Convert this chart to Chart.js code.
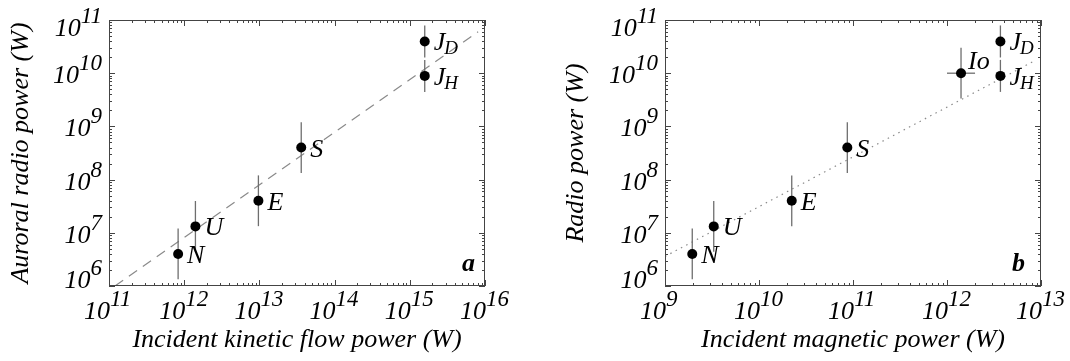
<!DOCTYPE html>
<html>
<head>
<meta charset="utf-8">
<script src="https://cdn.jsdelivr.net/npm/chart.js@4.4.1/dist/chart.umd.min.js"></script>
<style>
  html, body { margin: 0; padding: 0; background: #fff; }
  #wrap { position: relative; width: 1070px; height: 361px; }
  #wrap canvas { position: absolute; top: 0; }
</style>
</head>
<body>
<div id="wrap">
  <canvas id="chartA" width="535" height="361" style="left:0"></canvas>
  <canvas id="chartB" width="535" height="361" style="left:535px"></canvas>
</div>
<script>
// panel a : radio power vs incident kinetic flow power
const namesA = ['N', 'U', 'E', 'S', 'J', 'J'];
const subsA = ['', '', '', '', 'D', 'H'];
const kineticPower = [8.3e11, 1.41e12, 9.7e12, 3.6e13, 1.58e15, 1.58e15];
const radioPowerA = [4.0e6, 1.32e7, 4.0e7, 4.0e8, 3.95e10, 8.9e9];
const radioErrA = [3, 3, 3, 3, 2, 2];   // multiplicative error
const fitAx = [1.2e11, 8.1e15];
const fitAy = [1.0e6, 6.0e10];

// panel b : radio power vs incident magnetic power
const namesB = ['N', 'U', 'E', 'S', 'Io', 'J', 'J'];
const subsB = ['', '', '', '', '', 'D', 'H'];
const magneticPower = [1.95e9, 3.3e9, 2.23e10, 8.7e10, 1.41e12, 3.7e12, 3.7e12];
const radioPowerB = [4.0e6, 1.32e7, 4.0e7, 4.0e8, 1.0e10, 3.95e10, 8.9e9];
const radioErrB = [3, 3, 3, 3, 3, 2, 2];
const magErrB = [0, 0, 0, 0, 1.41, 0, 0];
const fitBx = [1.0e9, 8.9e12];
const fitBy = [3.6e6, 1.78e10];

// tick exponents
const xExpA = [11, 12, 13, 14, 15, 16];
const xExpB = [9, 10, 11, 12, 13];
const yExp = [6, 7, 8, 9, 10, 11];

const SERIF = '"Liberation Serif", "Times New Roman", serif';

const framePlugin = {
    id: 'frame',
    afterDraw(chart, args, opts) {
        const ctx = chart.ctx;
        const area = chart.chartArea;
        const xs = chart.scales.x;
        const ys = chart.scales.y;
        ctx.save();
        ctx.strokeStyle = '#444';
        ctx.lineWidth = 1;
        ctx.strokeRect(Math.round(area.left) + 0.5, Math.round(area.top) + 0.5,
            Math.round(area.width) - 1, Math.round(area.height) - 1);

        ctx.beginPath();
        opts.xExp.forEach(e => {
            for (let m = 1; m <= 9; m++) {
                const v = m * Math.pow(10, e);
                if (v > xs.max * 1.0001) break;
                const px = Math.round(xs.getPixelForValue(v)) + 0.5;
                const len = m === 1 ? 6 : 3;
                ctx.moveTo(px, area.bottom); ctx.lineTo(px, area.bottom - len);
                ctx.moveTo(px, area.top); ctx.lineTo(px, area.top + len);
            }
        });
        opts.yExp.forEach(e => {
            for (let m = 1; m <= 9; m++) {
                const v = m * Math.pow(10, e);
                if (v > ys.max * 1.0001) break;
                const py = Math.round(ys.getPixelForValue(v)) + 0.5;
                const len = m === 1 ? 6 : 3;
                ctx.moveTo(area.left, py); ctx.lineTo(area.left + len, py);
                ctx.moveTo(area.right, py); ctx.lineTo(area.right - len, py);
            }
        });
        ctx.stroke();

        // tick labels 10^n
        ctx.fillStyle = '#000';
        const baseFont = 'italic 26px ' + SERIF;
        const supFont = 'italic 23px ' + SERIF;
        ctx.textBaseline = 'alphabetic';
        opts.xExp.forEach(e => {
            const px = xs.getPixelForValue(Math.pow(10, e));
            ctx.font = baseFont;
            ctx.textAlign = 'right';
            ctx.fillText('10', px + 1, area.bottom + 33);
            ctx.font = supFont;
            ctx.textAlign = 'left';
            ctx.fillText(String(e), px + 1, area.bottom + 20);
        });
        opts.yExp.forEach(e => {
            const py = ys.getPixelForValue(Math.pow(10, e));
            const base = Math.min(Math.max(py + 10, area.top + 16), area.bottom + 2);
            const right = area.left - 7;
            ctx.font = supFont;
            const w = ctx.measureText(String(e)).width;
            ctx.textAlign = 'left';
            ctx.fillText(String(e), right - w, base - 13);
            ctx.font = baseFont;
            ctx.textAlign = 'right';
            ctx.fillText('10', right - w, base);
        });

        // panel letter
        ctx.font = 'italic bold 26px ' + SERIF;
        ctx.textAlign = 'right';
        ctx.fillText(opts.letter, area.right - opts.letterInset, area.bottom - 15);
        ctx.restore();
    },
    afterDatasetsDraw(chart, args, opts) {
        const ctx = chart.ctx;
        const idx = chart.data.datasets.findIndex(d => d.label === 'planets');
        const meta = chart.getDatasetMeta(idx);
        ctx.save();
        ctx.fillStyle = '#000';
        ctx.textAlign = 'left';
        ctx.textBaseline = 'alphabetic';
        meta.data.forEach((pt, i) => {
            const name = opts.names[i];
            let x = pt.x + 9;
            let y = pt.y + 9;
            if (name === 'Io') { x = pt.x + 7; y = pt.y - 4; }
            ctx.font = 'italic 26px ' + SERIF;
            ctx.fillText(name, x, y);
            if (opts.subs[i]) {
                const w = ctx.measureText(name).width;
                ctx.font = 'italic 19px ' + SERIF;
                ctx.fillText(opts.subs[i], x + w - 1, y + 4);
            }
        });
        ctx.restore();
    }
};

function makeChart(canvasId, p) {
    const datasets = [];
    datasets.push({
        label: 'fit',
        data: p.fitX.map((x, i) => ({ x: x, y: p.fitY[i] })),
        showLine: true,
        borderColor: '#8a8a8a',
        borderWidth: 1.2,
        borderDash: p.dash,
        pointRadius: 0,
        order: 3
    });
    p.xs.forEach((x, i) => {
        const y = p.ys[i];
        const f = p.yErr[i];
        datasets.push({
            label: 'err',
            data: [{ x: x, y: y / f }, { x: x, y: y * f }],
            showLine: true,
            borderColor: '#6e6e6e',
            borderWidth: 1.3,
            pointRadius: 0,
            order: 2
        });
        if (p.xErr && p.xErr[i]) {
            const g = p.xErr[i];
            datasets.push({
                label: 'err',
                data: [{ x: x / g, y: y }, { x: x * g, y: y }],
                showLine: true,
                borderColor: '#6e6e6e',
                borderWidth: 1.3,
                pointRadius: 0,
                order: 2
            });
        }
    });
    datasets.push({
        label: 'planets',
        data: p.xs.map((x, i) => ({ x: x, y: p.ys[i] })),
        pointRadius: 5,
        backgroundColor: '#000',
        borderWidth: 0,
        order: 1
    });

    const titleFont = { family: SERIF, size: 26, style: 'italic', lineHeight: 1 };

    return new Chart(document.getElementById(canvasId), {
        type: 'scatter',
        data: { datasets: datasets },
        plugins: [framePlugin],
        options: {
            responsive: false,
            animation: false,
            events: [],
            layout: { padding: { left: 0, top: 20, right: p.padRight, bottom: 0 } },
            plugins: {
                legend: { display: false },
                tooltip: { enabled: false },
                frame: { xExp: p.xExp, yExp: yExp, names: p.names, subs: p.subs,
                         letter: p.letter, letterInset: p.letterInset }
            },
            scales: {
                x: {
                    type: 'logarithmic',
                    min: Math.pow(10, p.xExp[0]),
                    max: Math.pow(10, p.xExp[p.xExp.length - 1]),
                    grid: { display: false },
                    border: { display: false },
                    ticks: { display: false },
                    title: { display: true, text: p.xTitle, font: titleFont, color: '#000',
                             padding: { top: 0, bottom: 8 } },
                    afterFit: s => { s.height = 75; }
                },
                y: {
                    type: 'logarithmic',
                    min: 1e6,
                    max: 1e11,
                    grid: { display: false },
                    border: { display: false },
                    ticks: { display: false },
                    title: { display: true, text: p.yTitle, font: titleFont, color: '#000',
                             padding: { top: p.yTitlePad, bottom: 0 } },
                    afterFit: s => { s.width = p.yWidth; }
                }
            }
        }
    });
}

makeChart('chartA', {
    xs: kineticPower, ys: radioPowerA, yErr: radioErrA, xErr: null,
    names: namesA, subs: subsA, fitX: fitAx, fitY: fitAy, dash: [10, 7],
    xExp: xExpA, xTitle: 'Incident kinetic flow power (W)',
    yTitle: 'Auroral radio power (W)', yTitlePad: 8, yWidth: 109, padRight: 50,
    letter: 'a', letterInset: 10
});

makeChart('chartB', {
    xs: magneticPower, ys: radioPowerB, yErr: radioErrB, xErr: magErrB,
    names: namesB, subs: subsB, fitX: fitBx, fitY: fitBy, dash: [1.5, 4.5],
    xExp: xExpB, xTitle: 'Incident magnetic power (W)',
    yTitle: 'Radio power (W)', yTitlePad: 28, yWidth: 130, padRight: 29,
    letter: 'b', letterInset: 16
});
</script>
</body>
</html>
